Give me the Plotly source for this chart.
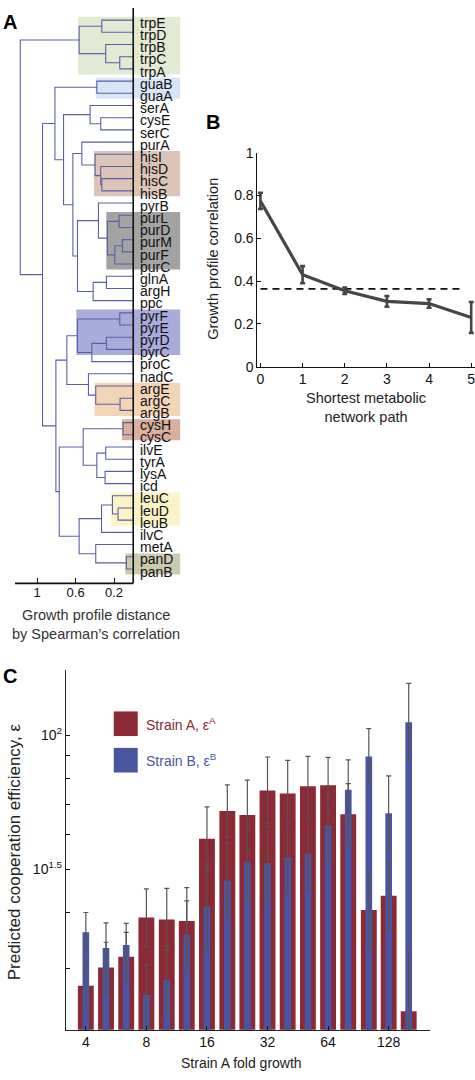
import numpy as np
import plotly.graph_objects as go

# ---------------- Panel A data: dendrogram ----------------
leaves = ["trpE", "trpD", "trpB", "trpC", "trpA", "guaB", "guaA", "serA", "cysE", "serC",
          "purA", "hisI", "hisD", "hisC", "hisB", "pyrB", "purL", "purD", "purM", "purF",
          "purC", "glnA", "argH", "ppc", "pyrF", "pyrE", "pyrD", "pyrC", "proC", "nadC",
          "argE", "argC", "argB", "cysH", "cysC", "ilvE", "tyrA", "lysA", "icd", "leuC",
          "leuD", "leuB", "ilvC", "metA", "panD", "panB"]

# (node, child_a, child_b, merge distance)
links = [
    ("trp1", "trpE", "trpD", 0.327), ("trp2", "trpC", "trpA", 0.140),
    ("trp3", "trpB", "trp2", 0.286), ("TRP", "trp1", "trp3", 0.563),
    ("GUA", "guaB", "guaA", 0.379),
    ("ser1", "cysE", "serC", 0.338), ("SER", "serA", "ser1", 0.449),
    ("his1", "hisC", "hisB", 0.327), ("his2", "hisD", "his1", 0.338),
    ("HIS", "hisI", "his2", 0.397), ("purAH", "purA", "HIS", 0.535),
    ("pur1", "purL", "purD", 0.147), ("pur2", "purM", "purF", 0.112),
    ("pur3", "pur2", "purC", 0.192), ("PUR", "pur1", "pur3", 0.268),
    ("pyrBP", "pyrB", "PUR", 0.362),
    ("gln1", "glnA", "argH", 0.279), ("GLN", "gln1", "ppc", 0.417),
    ("u1", "pyrBP", "GLN", 0.580), ("u2", "purAH", "u1", 0.628),
    ("u3", "SER", "u2", 0.725), ("u4", "GUA", "u3", 0.815),
    ("pyr1", "pyrF", "pyrE", 0.140), ("pyr2", "pyrD", "pyrC", 0.279),
    ("pyr3", "pyr2", "proC", 0.431), ("PYR", "pyr1", "pyr3", 0.580),
    ("arg1", "argC", "argB", 0.137), ("ARG", "argE", "arg1", 0.390),
    ("nadARG", "nadC", "ARG", 0.466), ("l1", "PYR", "nadARG", 0.691),
    ("CYS", "cysH", "cysC", 0.106),
    ("it", "ilvE", "tyrA", 0.286), ("li", "lysA", "icd", 0.293),
    ("itli", "it", "li", 0.379), ("l2", "CYS", "itli", 0.521),
    ("leu1", "leuD", "leuB", 0.158), ("LEU", "leuC", "leu1", 0.216),
    ("leuI", "LEU", "ilvC", 0.330),
    ("PAN", "panD", "panB", 0.071), ("metP", "metA", "PAN", 0.390),
    ("l3", "leuI", "metP", 0.563), ("l4", "l2", "l3", 0.770),
    ("l5", "l1", "l4", 0.805), ("top", "u4", "l5", 0.944),
    ("root", "TRP", "top", 1.176),
]

group_first = ["trpE", "guaB", "hisI", "purL", "pyrF", "argE", "cysH", "leuC", "panD"]
group_last = ["trpA", "guaA", "hisB", "purC", "pyrC", "argB", "cysC", "leuB", "panB"]
group_node = ["TRP", "GUA", "HIS", "PUR", "PYR", "ARG", "CYS", "LEU", "PAN"]
group_color = ["#e2ead3", "#d6e6f7", "#dcc4b8", "#a3a3a3", "#a9acdb",
               "#f2d4b6", "#d9af9d", "#fbf3c6", "#cbc9ae"]

dist_ticks = [1, 0.6, 0.2]
dist_ticktext = ["1", "0.6", "0.2"]

# ---------------- Panel B data ----------------
path_len = [0, 1, 2, 3, 4, 5]
growth_corr = [0.775, 0.430, 0.355, 0.305, 0.295, 0.230]
growth_corr_err = [0.038, 0.040, 0.015, 0.025, 0.020, 0.072]
null_corr = 0.364
null_span = [0, 4.81]

# ---------------- Panel C data ----------------
fold_growth = [4, 5.04, 6.35, 8, 10.1, 12.7, 16, 20.2, 25.4, 32, 40.3, 50.8, 64, 80.6, 102, 128, 161]
eff_A = [27.4, 30.1, 31.8, 39.0, 38.6, 38.3, 58.6, 67.6, 66.2, 75.2, 74.0, 76.9, 77.3, 66.5, 40.5, 43.6, 24.0]
eff_A_hi = [3.7, 4.2, 4.3, 6.2, 6.7, 7.2, 10.5, 9.8, 13.1, 14.2, 13.9, 12.8, 11.9, 11.4, 8.3, 8.4, 9.2]
eff_A_lo = [3.3, 3.7, 3.8, 5.4, 5.7, 6.1, 8.9, 8.6, 10.9, 11.9, 11.7, 11.0, 10.3, 9.7, 6.9, 7.0, 6.7]
eff_B = [36.1, 33.3, 33.8, 26.1, 28.3, 35.7, 41.3, 47.2, 52.0, 51.6, 53.2, 54.3, 62.7, 75.5, 89.6, 66.8, 107.0]
eff_B_hi = [3.9, 4.6, 4.0, 4.4, 5.4, 6.8, 10.2, 10.3, 11.2, 10.9, 10.5, 10.9, 11.8, 12.6, 13.9, 14.3, 23.9]
eff_B_lo = [3.5, 4.0, 3.6, 3.8, 4.5, 5.7, 8.2, 8.5, 9.2, 9.0, 8.8, 9.1, 9.9, 10.8, 12.0, 11.8, 19.5]
fold_ticks = [4, 8, 16, 32, 64, 128]
eff_ticks = [50, 100]
eff_ticktext = ["10<sup>1.5</sup>", "10<sup>2</sup>"]
eff_minor = [30, 40, 60, 70, 80, 90]

RED = "#8b2935"
BLUE = "#4a55a1"
DENDRO = "#5b5fa6"
FONT = "Liberation Sans, Arial, Helvetica, sans-serif"
W, H = 475, 1080


def px(x):
    return x / W


def py(y):
    return 1 - y / H


# ---------------- build dendrogram geometry ----------------
ypos = {name: i for i, name in enumerate(leaves)}
hgt = {name: 0.0 for name in leaves}
lx, ly = [], []
for node, a, b, h in links:
    ya, yb = ypos[a], ypos[b]
    lx += [hgt[a], h, h, hgt[b], None]
    ly += [ya, ya, yb, yb, None]
    ypos[node] = (ya + yb) / 2
    hgt[node] = h

fig = go.Figure()

fig.add_trace(go.Scatter(x=lx, y=ly, mode="lines", line=dict(color=DENDRO, width=1.1),
                         xaxis="x", yaxis="y", showlegend=False, hoverinfo="skip"))

shapes = []
leaf_index = {name: i for i, name in enumerate(leaves)}
for f, l, n, c in zip(group_first, group_last, group_node, group_color):
    shapes.append(dict(type="rect", xref="x", yref="y", x0=hgt[n] + 0.012, x1=-0.49,
                       y0=leaf_index[f] - 0.27, y1=leaf_index[l] + 0.45,
                       fillcolor=c, line=dict(width=0), layer="below"))
# leaf baseline and distance axis line
shapes.append(dict(type="line", xref="x", yref="y domain", x0=0, x1=0, y0=0, y1=1,
                   line=dict(color="#111", width=1.6)))
shapes.append(dict(type="line", xref="x", yref="y domain", x0=1.231, x1=0, y0=0, y1=0,
                   line=dict(color="#111", width=1.6)))

annotations = []
for i, name in enumerate(leaves):
    annotations.append(dict(x=-0.045, y=i + 0.22, xref="x", yref="y", text=name,
                            showarrow=False, xanchor="left", yanchor="middle",
                            font=dict(size=14, color="#111", family=FONT)))

# ---------------- Panel B ----------------
fig.add_trace(go.Scatter(x=null_span, y=[null_corr, null_corr], mode="lines",
                         line=dict(color="#111", width=1.8, dash="7px,5px"),
                         xaxis="x2", yaxis="y2", showlegend=False))
fig.add_trace(go.Scatter(x=path_len, y=growth_corr, mode="lines",
                         line=dict(color="#464646", width=3.2),
                         error_y=dict(type="data", array=growth_corr_err, color="#464646",
                                      thickness=2.6, width=2.5),
                         xaxis="x2", yaxis="y2", showlegend=False, cliponaxis=False))

# ---------------- Panel C ----------------
xlog = np.log2(fold_growth)
fig.add_trace(go.Bar(x=xlog, y=eff_A, width=0.262, marker=dict(color=RED, line=dict(width=0)),
                     xaxis="x3", yaxis="y3", showlegend=False))
fig.add_trace(go.Bar(x=xlog, y=eff_B, width=0.11, marker=dict(color=BLUE, line=dict(width=0)),
                     xaxis="x3", yaxis="y3", showlegend=False))
fig.add_trace(go.Scatter(x=xlog, y=eff_A, mode="markers", marker=dict(size=1, color="rgba(0,0,0,0)"),
                         error_y=dict(type="data", array=eff_A_hi, arrayminus=eff_A_lo,
                                      color="#555", thickness=1.2, width=2.5),
                         xaxis="x3", yaxis="y3", showlegend=False, hoverinfo="skip"))
fig.add_trace(go.Scatter(x=xlog, y=eff_B, mode="markers", marker=dict(size=1, color="rgba(0,0,0,0)"),
                         error_y=dict(type="data", array=eff_B_hi, arrayminus=eff_B_lo,
                                      color="#555", thickness=1.2, width=2.5),
                         xaxis="x3", yaxis="y3", showlegend=False, hoverinfo="skip"))

# legend swatches (manual)
shapes.append(dict(type="rect", xref="paper", yref="paper", x0=px(113), x1=px(137),
                   y0=py(739), y1=py(714), fillcolor=RED, line=dict(width=0)))
shapes.append(dict(type="rect", xref="paper", yref="paper", x0=px(113), x1=px(137),
                   y0=py(776), y1=py(751), fillcolor=BLUE, line=dict(width=0)))
annotations.append(dict(x=px(143), y=py(727), xref="paper", yref="paper", showarrow=False,
                        text="Strain A, ε<sup>A</sup>", xanchor="left", yanchor="middle",
                        font=dict(size=14, color=RED, family=FONT)))
annotations.append(dict(x=px(143), y=py(763), xref="paper", yref="paper", showarrow=False,
                        text="Strain B, ε<sup>B</sup>", xanchor="left", yanchor="middle",
                        font=dict(size=14, color=BLUE, family=FONT)))

# panel letters and titles
for letter, x, y in [("A", 0, 14), ("B", 203, 116), ("C", 0, 678)]:
    annotations.append(dict(x=px(x), y=py(y), xref="paper", yref="paper", showarrow=False,
                            text="<b>%s</b>" % letter, xanchor="left", yanchor="middle",
                            font=dict(size=20, color="#000", family=FONT)))
annotations.append(dict(x=px(95), y=py(626), xref="paper", yref="paper", showarrow=False,
                        text="Growth profile distance<br>by Spearman’s correlation",
                        xanchor="center", yanchor="middle",
                        font=dict(size=14.5, color="#333", family=FONT)))
annotations.append(dict(x=px(213), y=py(255), xref="paper", yref="paper", showarrow=False,
                        text="Growth profile correlation", textangle=-90,
                        xanchor="center", yanchor="middle",
                        font=dict(size=14.5, color="#222", family=FONT)))
annotations.append(dict(x=px(366), y=py(405), xref="paper", yref="paper", showarrow=False,
                        text="Shortest metabolic<br>network path",
                        xanchor="center", yanchor="middle",
                        font=dict(size=14.5, color="#222", family=FONT)))
annotations.append(dict(x=px(13), y=py(856), xref="paper", yref="paper", showarrow=False,
                        text="Predicted cooperation efficiency, ε", textangle=-90,
                        xanchor="center", yanchor="middle",
                        font=dict(size=17, color="#222", family=FONT)))
annotations.append(dict(x=px(241), y=py(1071), xref="paper", yref="paper", showarrow=False,
                        text="Strain A fold growth", xanchor="center", yanchor="middle",
                        font=dict(size=14, color="#222", family=FONT)))

axis_common = dict(showgrid=False, zeroline=False, ticks="inside", tickcolor="#111",
                   ticklen=4, tickwidth=1, ticklabeloverflow="allow",
                   tickfont=dict(size=14, color="#111", family=FONT))

fig.update_layout(
    width=W, height=H, margin=dict(l=0, r=0, t=0, b=0),
    paper_bgcolor="white", plot_bgcolor="rgba(0,0,0,0)",
    font=dict(family=FONT),
    showlegend=False,
    barmode="overlay",
    shapes=shapes, annotations=annotations,
    xaxis=dict(domain=[px(14), px(180)], range=[1.231, -0.4935], showline=False,
               showgrid=False, zeroline=False, ticks="inside", ticklen=5, tickcolor="#111",
               tickvals=dist_ticks, ticktext=dist_ticktext,
               tickfont=dict(size=13, color="#111", family=FONT), anchor="y"),
    yaxis=dict(domain=[py(584), 1], range=[46.18, -0.994], visible=False, anchor="x"),
    xaxis2=dict(domain=[px(257), 1.0], range=[-0.071, 5.09], anchor="y2",
                showline=True, linecolor="#111", linewidth=1,
                tickvals=path_len, **axis_common),
    yaxis2=dict(domain=[py(364), py(147)], range=[0, 1], anchor="x2",
                showline=True, linecolor="#111", linewidth=1,
                tickvals=[0, 0.2, 0.4, 0.6, 0.8, 1], ticktext=["0", "0.2", "0.4", "0.6", "0.8", "1"],
                **axis_common),
    xaxis3=dict(domain=[px(65), px(430)], range=[1.6705, 7.684], anchor="y3",
                showline=True, linecolor="#222", linewidth=1,
                tickvals=list(np.log2(fold_ticks)), ticktext=[str(v) for v in fold_ticks],
                **axis_common),
    yaxis3=dict(domain=[py(1037), py(672)], type="log", range=[1.339, 2.1467], anchor="x3",
                showline=True, linecolor="#222", linewidth=1,
                tickvals=eff_ticks, ticktext=eff_ticktext,
                minor=dict(tickvals=eff_minor, ticks="inside", ticklen=4, tickcolor="#111"),
                **axis_common),
)

fig.write_html("out.html", config=dict(displayModeBar=False),
               post_script="document.body.style.margin='0';document.body.style.overflow='hidden';")
